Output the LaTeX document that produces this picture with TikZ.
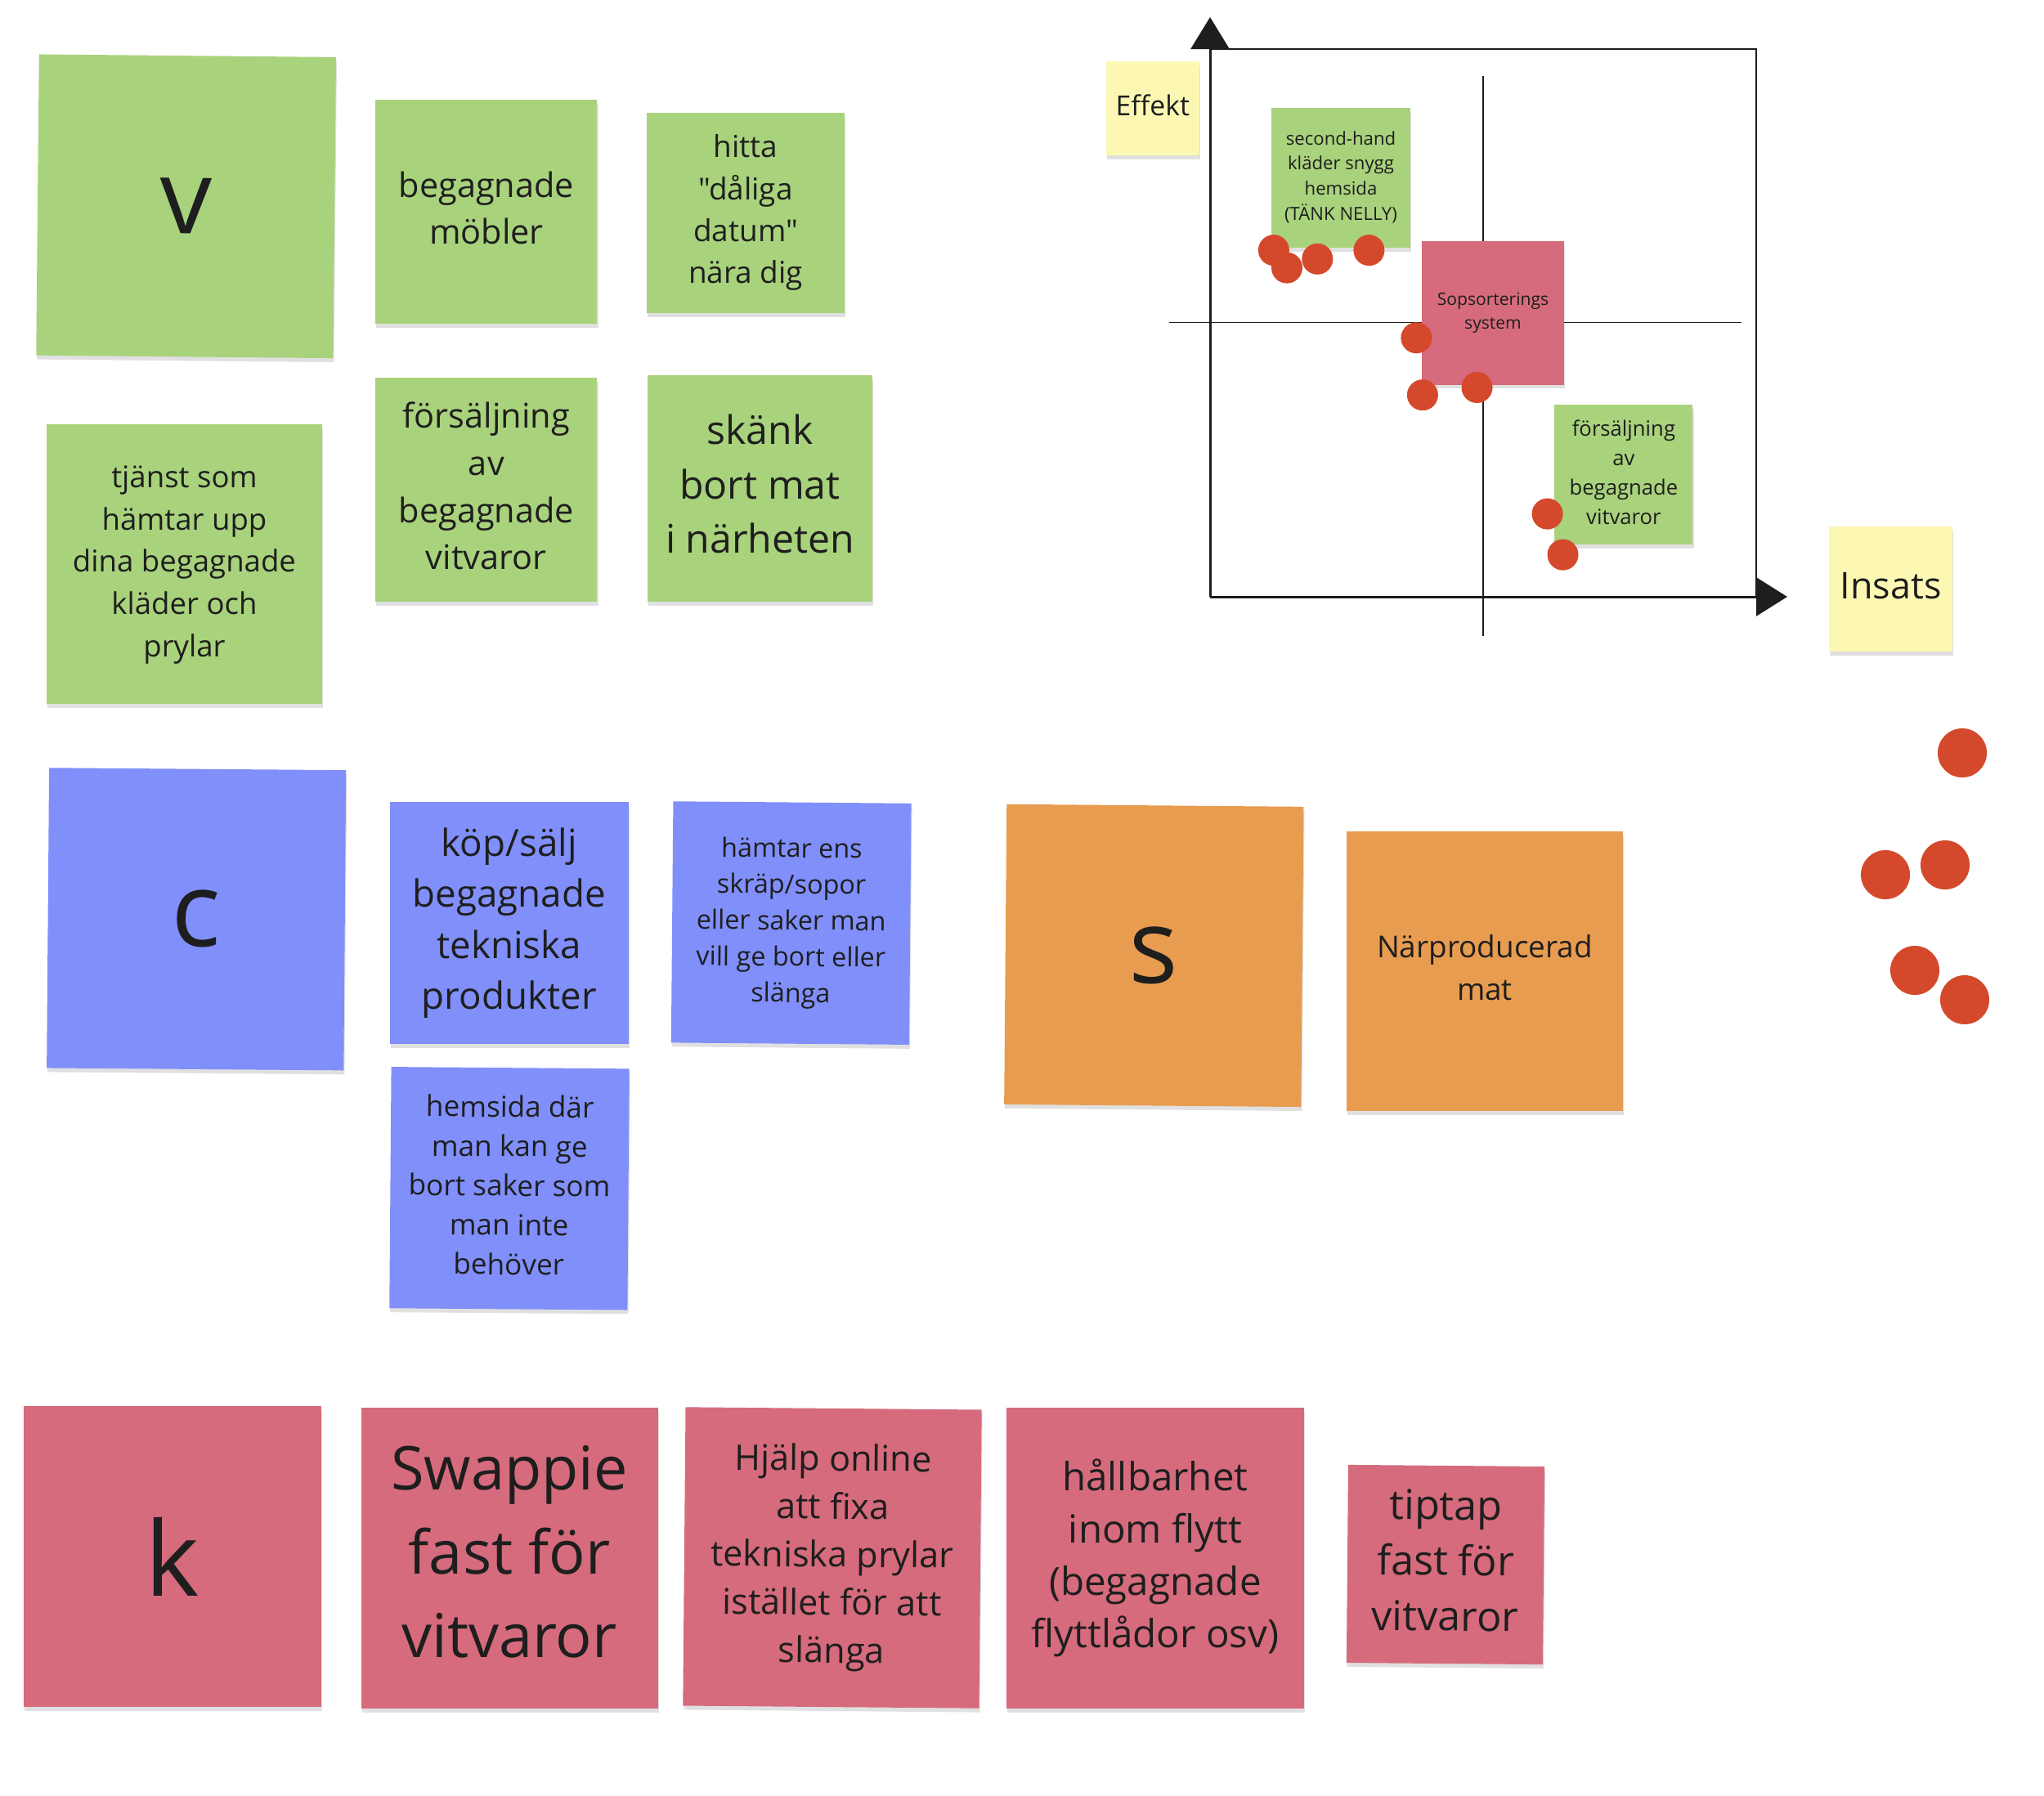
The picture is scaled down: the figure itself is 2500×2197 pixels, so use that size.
\documentclass[tikz,border=0pt]{standalone}
\usepackage{fontspec}
\newfontfamily\osans{Open Sans}
\usetikzlibrary{arrows.meta,shadows}
\definecolor{stgreen}{HTML}{A9D27C}
\definecolor{stblue}{HTML}{808FFA}
\definecolor{storange}{HTML}{E89C50}
\definecolor{stpink}{HTML}{D56B7C}
\definecolor{styellow}{HTML}{FCF8B3}
\definecolor{dotred}{HTML}{D4492C}
\definecolor{txt}{HTML}{1E1E1E}
\newcommand\fsz[2]{\fontsize{#1}{#2}\selectfont}
\newcommand\ms{\rule[-0.24em]{0pt}{1em}}
\begin{document}
\begin{tikzpicture}[x=0.01cm,y=-0.01cm,
  sticky/.style={draw=none, inner sep=0pt, align=center, text=txt,
    drop shadow={shadow xshift=0.3pt, shadow yshift=-1.4pt, opacity=0.12, fill=black}},
  dot/.style={circle, fill=dotred, draw=none, inner sep=0pt, minimum size=0.38cm},
  bigdot/.style={circle, fill=dotred, draw=none, inner sep=0pt, minimum size=0.60cm},
  boxline/.style={draw=txt, line width=0.75pt},
  axisline/.style={draw=txt, line width=0.85pt},
  crossline/.style={draw=txt, line width=0.45pt},
]
\useasboundingbox[fill=white] (0,0) rectangle (2500,2197);

% ---- chart frame ----
\coordinate (O) at (1480,730);
\coordinate (ytip) at (1480,21);
\coordinate (xtip) at (2186,730);
\coordinate (bTR) at (2148,60);
\coordinate (chT) at (1814,93);
\coordinate (chB) at (1814,778);
\coordinate (chL) at (1430,394.5);
\coordinate (chR) at (2130,394.5);
\draw[crossline] (chT) -- (chB);
\draw[crossline] (chL) -- (chR);
\draw[boxline] (O |- bTR) -- (bTR) -- (bTR |- O);
\draw[axisline, -{Triangle[length=0.39cm,width=0.47cm]}] (O) -- (ytip);
\draw[axisline, -{Triangle[length=0.38cm,width=0.47cm]}] (O) -- (xtip);

% ---- green group ----
\node[sticky, fill=stgreen, rotate=-0.55, minimum width=3.63cm, minimum height=3.68cm, font={\osans\fsz{36}{48}}] (v) at (227.6,252.3) {v};
\node[sticky, fill=stgreen, minimum width=2.71cm, minimum height=2.74cm, font={\osans\fsz{11.8}{16.2}}] (mobler) at (594.9,258.9) {\ms begagnade\\möbler\ms};
\node[sticky, fill=stgreen, minimum width=2.41cm, minimum height=2.45cm, font={\osans\fsz{10.5}{14.6}}] (hitta) at (912,260.3) {\ms hitta\\"dåliga\\datum"\\nära dig\ms};
\node[sticky, fill=stgreen, minimum width=3.37cm, minimum height=3.42cm, font={\osans\fsz{10.4}{14.7}}] (tjanst) at (225.5,690.3) {\ms tjänst som\\hämtar upp\\dina begagnade\\kläder och\\prylar\ms};
\node[sticky, fill=stgreen, minimum width=2.71cm, minimum height=2.74cm, font={\osans\fsz{11.8}{16.4}}] (forsalj) at (594.9,599.3) {\ms försäljning\\av\\begagnade\\vitvaror\ms};
\node[sticky, fill=stgreen, minimum width=2.74cm, minimum height=2.77cm, font={\osans\fsz{13.7}{18.9}}] (skank) at (929.5,597.6) {\ms skänk\\bort mat\\i närheten\ms};

% ---- blue group ----
\node[sticky, fill=stblue, rotate=-0.46, minimum width=3.63cm, minimum height=3.67cm, font={\osans\fsz{36}{48}}] (c) at (240.2,1124.3) {c};
\node[sticky, fill=stblue, minimum width=2.92cm, minimum height=2.96cm, font={\osans\fsz{13}{17.8}}] (kop) at (622.7,1129.1) {\ms köp/sälj\\begagnade\\tekniska\\produkter\ms};
\node[sticky, fill=stblue, rotate=-0.5, minimum width=2.91cm, minimum height=2.95cm, font={\osans\fsz{9.2}{12.6}}] (hamtar) at (967.7,1129.1) {\ms hämtar ens\\skräp/sopor\\eller saker man\\vill ge bort eller\\slänga\ms};
\node[sticky, fill=stblue, rotate=-0.45, minimum width=2.91cm, minimum height=2.95cm, font={\osans\fsz{10}{13.7}}] (hemsida) at (623,1453.8) {\ms hemsida där\\man kan ge\\bort saker som\\man inte\\behöver\ms};

% ---- orange group ----
\node[sticky, fill=storange, rotate=-0.49, minimum width=3.63cm, minimum height=3.67cm, font={\osans\fsz{36}{48}}] (s) at (1411.3,1168.9) {s};
\node[sticky, fill=storange, minimum width=3.37cm, minimum height=3.42cm, font={\osans\fsz{10.5}{14.6}}] (narprod) at (1816,1187.8) {\ms Närproducerad\\mat\ms};

% ---- pink group ----
\node[sticky, fill=stpink, minimum width=3.64cm, minimum height=3.68cm, font={\osans\fsz{36}{48}}] (k) at (210.8,1904) {k};
\node[sticky, fill=stpink, minimum width=3.63cm, minimum height=3.68cm, font={\osans\fsz{21}{29.2}}] (swappie) at (623.1,1906) {\ms Swappie\\fast för\\vitvaror\ms};
\node[sticky, fill=stpink, rotate=-0.5, minimum width=3.62cm, minimum height=3.65cm, font={\osans\fsz{12.3}{16.7}}] (hjalp) at (1018,1905.5) {\ms Hjälp online\\att fixa\\tekniska prylar\\istället för att\\slänga\ms};
\node[sticky, fill=stpink, minimum width=3.63cm, minimum height=3.68cm, font={\osans\fsz{13.5}{18.2}}] (hallbar) at (1412.9,1906) {\ms hållbarhet\\inom flytt\\(begagnade\\flyttlådor osv)\ms};
\node[sticky, fill=stpink, rotate=-0.5, minimum width=2.40cm, minimum height=2.42cm, font={\osans\fsz{14.3}{19.3}}] (tiptap) at (1768,1914) {\ms tiptap\\fast för\\vitvaror\ms};

% ---- chart stickies ----
\node[sticky, fill=styellow, minimum width=1.14cm, minimum height=1.15cm, font={\osans\fsz{9.6}{13}}] (effekt) at (1409.8,132.7) {\ms Effekt\ms};
\node[sticky, fill=styellow, minimum width=1.51cm, minimum height=1.53cm, font={\osans\fsz{12.8}{17}}] (insats) at (2312.7,720.9) {\ms Insats\ms};
\node[sticky, fill=stgreen, minimum width=1.69cm, minimum height=1.71cm, font={\osans\fsz{6.3}{8.7}}] (secondhand) at (1640,217.5) {\ms second-hand\\kläder snygg\\hemsida\\(TÄNK NELLY)\ms};
\node[sticky, fill=stpink, minimum width=1.73cm, minimum height=1.755cm, font={\osans\fsz{6}{8.1}}] (sopsort) at (1826,382.7) {\ms Sopsorterings\\system\ms};
\node[sticky, fill=stgreen, minimum width=1.69cm, minimum height=1.71cm, font={\osans\fsz{7.3}{10.2}}] (forsalj2) at (1985.9,580.9) {\ms försäljning\\av\\begagnade\\vitvaror\ms};

% ---- dots in chart ----
\node[dot] (d1) at (1557.9,306.1) {};
\node[dot] (d2) at (1574,327.6) {};
\node[dot] (d3) at (1611.3,316.8) {};
\node[dot] (d4) at (1674.4,306.1) {};
\node[dot] (d5) at (1732.4,413.3) {};
\node[dot] (d6) at (1739.9,483.2) {};
\node[dot] (d7) at (1806.5,474) {};
\node[dot] (d8) at (1892.6,628.6) {};
\node[dot] (d9) at (1911.5,678.6) {};

% ---- loose dots ----
\node[bigdot] (e1) at (2400,921) {};
\node[bigdot] (e2) at (2379,1058) {};
\node[bigdot] (e3) at (2306,1070) {};
\node[bigdot] (e4) at (2342,1187) {};
\node[bigdot] (e5) at (2403,1223) {};
\end{tikzpicture}
\end{document}
